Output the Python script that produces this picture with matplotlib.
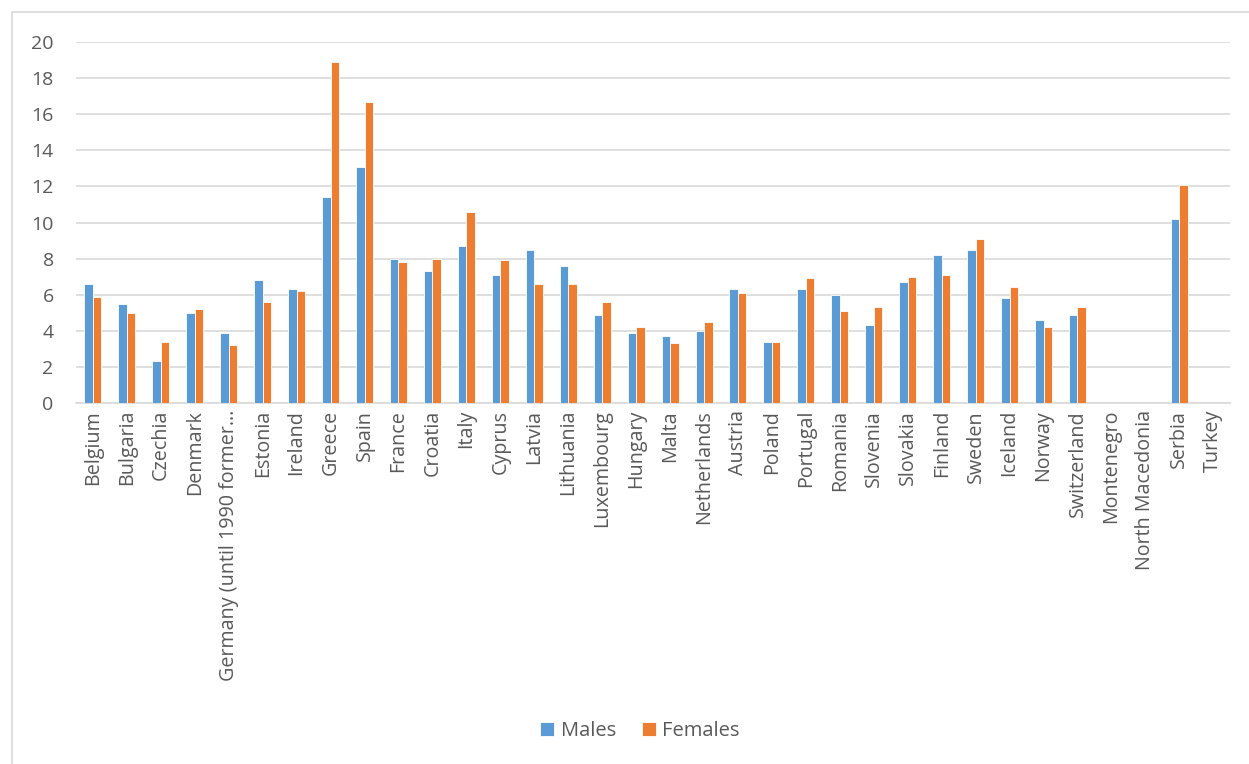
import matplotlib
matplotlib.use("Agg")
import matplotlib.pyplot as plt
import numpy as np
from matplotlib.lines import Line2D

countries = ["Belgium", "Bulgaria", "Czechia", "Denmark", "Germany (until 1990 former\u2026",
             "Estonia", "Ireland", "Greece", "Spain", "France", "Croatia", "Italy", "Cyprus",
             "Latvia", "Lithuania", "Luxembourg", "Hungary", "Malta", "Netherlands", "Austria",
             "Poland", "Portugal", "Romania", "Slovenia", "Slovakia", "Finland", "Sweden",
             "Iceland", "Norway", "Switzerland", "Montenegro", "North Macedonia", "Serbia", "Turkey"]
males = [6.6, 5.5, 2.3, 5.0, 3.9, 6.8, 6.3, 11.4, 13.1, 8.0, 7.3, 8.7, 7.1, 8.5, 7.6, 4.9,
         3.9, 3.7, 4.0, 6.3, 3.4, 6.3, 6.0, 4.3, 6.7, 8.2, 8.5, 5.8, 4.6, 4.9,
         np.nan, np.nan, 10.2, np.nan]
females = [5.9, 5.0, 3.4, 5.2, 3.2, 5.6, 6.2, 18.9, 16.7, 7.8, 8.0, 10.6, 7.9, 6.6, 6.6, 5.6,
           4.2, 3.3, 4.5, 6.1, 3.4, 6.9, 5.1, 5.3, 7.0, 7.1, 9.1, 6.4, 4.2, 5.3,
           np.nan, np.nan, 12.1, np.nan]
yticks = [0, 2, 4, 6, 8, 10, 12, 14, 16, 18, 20]

plt.rcParams['font.family'] = ['Open Sans', 'DejaVu Sans']
txt = '#595959'
c_m = '#5b9bd5'
c_f = '#ed7d31'

fig = plt.figure(figsize=(12.49, 7.64), dpi=100)
ax = fig.add_axes([0.0608, 0.4725, 0.9242, 0.4725])

x = np.arange(len(countries))
w = 0.25
ax.bar(x - w / 2, males, w, color=c_m, edgecolor='white', linewidth=0.6, label='Males', zorder=3)
ax.bar(x + w / 2, females, w, color=c_f, edgecolor='white', linewidth=0.6, label='Females', zorder=3)

ax.set_xlim(-0.5, len(countries) - 0.5)
ax.set_ylim(0, 20)
ax.set_yticks(yticks)
ax.set_yticklabels([str(t) for t in yticks], color=txt, fontsize=14)
ax.set_xticks(x)
ax.set_xticklabels(countries, rotation=90, color=txt, fontsize=14.2)
ax.tick_params(axis='x', length=0, pad=5)
ax.tick_params(axis='y', length=0, pad=16)
ax.yaxis.grid(True, color='#d9d9d9', linewidth=1.2, zorder=0)
for s in ['top', 'right', 'left']:
    ax.spines[s].set_visible(False)
ax.spines['bottom'].set_color('#d9d9d9')
ax.spines['bottom'].set_linewidth(1.2)

leg = fig.legend(loc='center', bbox_to_anchor=(640 / 1249, 1 - 731 / 764), ncol=2, frameon=False,
                 fontsize=14.5, handlelength=0.7, handleheight=0.7, columnspacing=1.3,
                 handletextpad=0.3)
for t in leg.get_texts():
    t.set_color(txt)

# outer chart border (left and top visible)
fig.add_artist(Line2D([12 / 1249, 12 / 1249], [0, 1 - 12 / 764], transform=fig.transFigure,
                      color='#d9d9d9', linewidth=1.2))
fig.add_artist(Line2D([12 / 1249, 1], [1 - 12 / 764, 1 - 12 / 764], transform=fig.transFigure,
                      color='#d9d9d9', linewidth=1.2))

fig.savefig('out.png', dpi=100)
